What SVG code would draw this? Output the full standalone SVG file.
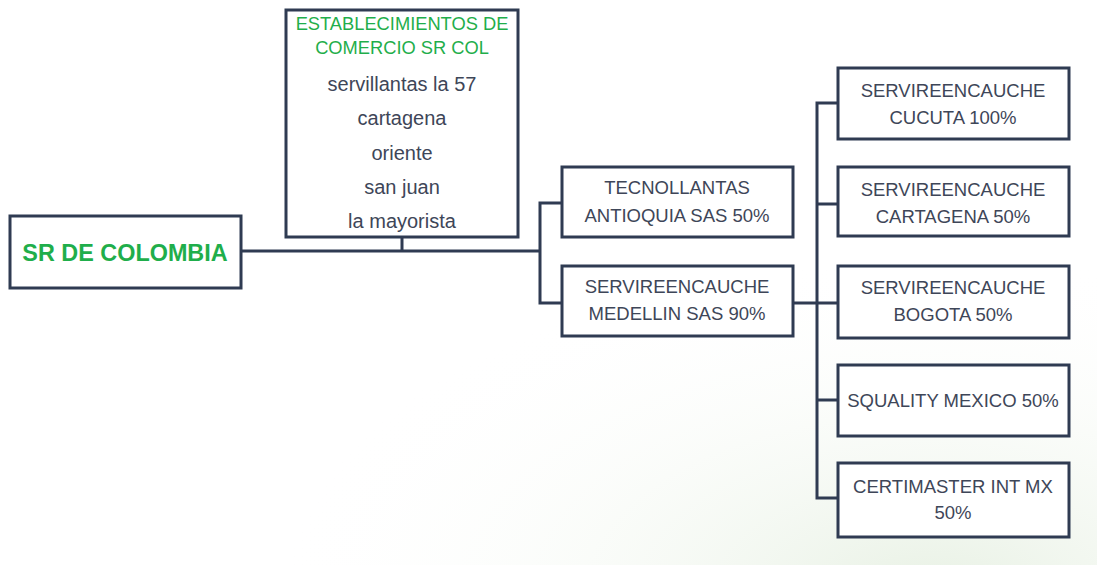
<svg xmlns="http://www.w3.org/2000/svg" width="1097" height="565" viewBox="0 0 1097 565">
<defs>
<radialGradient id="bg" cx="0.85" cy="1.05" r="0.6">
<stop offset="0" stop-color="#e8f1e4"/>
<stop offset="1" stop-color="#ffffff" stop-opacity="0"/>
</radialGradient>
</defs>
<style>
.box{fill:#ffffff;stroke:#2f3b52;stroke-width:3}
.con{fill:none;stroke:#2f3b52;stroke-width:3}
text{font-family:"Liberation Sans","Open Sans",sans-serif;text-anchor:middle}
.t{font-size:18.5px;fill:#3e4658}
.l{font-size:20px;fill:#3e4658}
.g{font-size:18.3px;fill:#1fae4b}
.title{font-size:23.4px;font-weight:bold;fill:#1fae4b}
</style>
<rect width="1097" height="565" fill="#ffffff"/>
<rect width="1097" height="565" fill="url(#bg)"/>
<g id="connectors">
<path class="con" d="M241 251 H540"/>
<path class="con" d="M402 237 V251"/>
<path class="con" d="M562 203 H540 V303 H562"/>
<path class="con" d="M793 303 H838"/>
<path class="con" d="M838 103 H817 V498 H838"/>
<path class="con" d="M817 204 H838"/>
<path class="con" d="M817 400 H838"/>
</g>
<g id="sr-colombia">
<rect class="box" x="10" y="216" width="231" height="72"/>
<text class="title" x="125" y="261">SR DE COLOMBIA</text>
</g>
<g id="establecimientos">
<rect class="box" x="286" y="10" width="232" height="227"/>
<text class="g" x="402" y="30">ESTABLECIMIENTOS DE</text>
<text class="g" x="402" y="54">COMERCIO SR COL</text>
<text class="l" x="402" y="91">servillantas la 57</text>
<text class="l" x="402" y="125">cartagena</text>
<text class="l" x="402" y="160">oriente</text>
<text class="l" x="402" y="194">san juan</text>
<text class="l" x="402" y="228">la mayorista</text>
</g>
<g id="tecnollantas">
<rect class="box" x="562" y="167" width="231" height="70"/>
<text class="t" x="677" y="194">TECNOLLANTAS</text>
<text class="t" x="677" y="222">ANTIOQUIA SAS 50%</text>
</g>
<g id="medellin">
<rect class="box" x="562" y="266" width="231" height="70"/>
<text class="t" x="677" y="293">SERVIREENCAUCHE</text>
<text class="t" x="677" y="320">MEDELLIN SAS 90%</text>
</g>
<g id="cucuta">
<rect class="box" x="838" y="68" width="231" height="71"/>
<text class="t" x="953" y="97">SERVIREENCAUCHE</text>
<text class="t" x="953" y="124">CUCUTA 100%</text>
</g>
<g id="cartagena">
<rect class="box" x="838" y="167" width="231" height="69"/>
<text class="t" x="953" y="196">SERVIREENCAUCHE</text>
<text class="t" x="953" y="223">CARTAGENA 50%</text>
</g>
<g id="bogota">
<rect class="box" x="838" y="266" width="231" height="72"/>
<text class="t" x="953" y="294">SERVIREENCAUCHE</text>
<text class="t" x="953" y="321">BOGOTA 50%</text>
</g>
<g id="squality">
<rect class="box" x="838" y="365" width="231" height="71"/>
<text class="t" x="953" y="407">SQUALITY MEXICO 50%</text>
</g>
<g id="certimaster">
<rect class="box" x="838" y="463" width="231" height="74"/>
<text class="t" x="953" y="493">CERTIMASTER INT MX</text>
<text class="t" x="953" y="519">50%</text>
</g>
</svg>
